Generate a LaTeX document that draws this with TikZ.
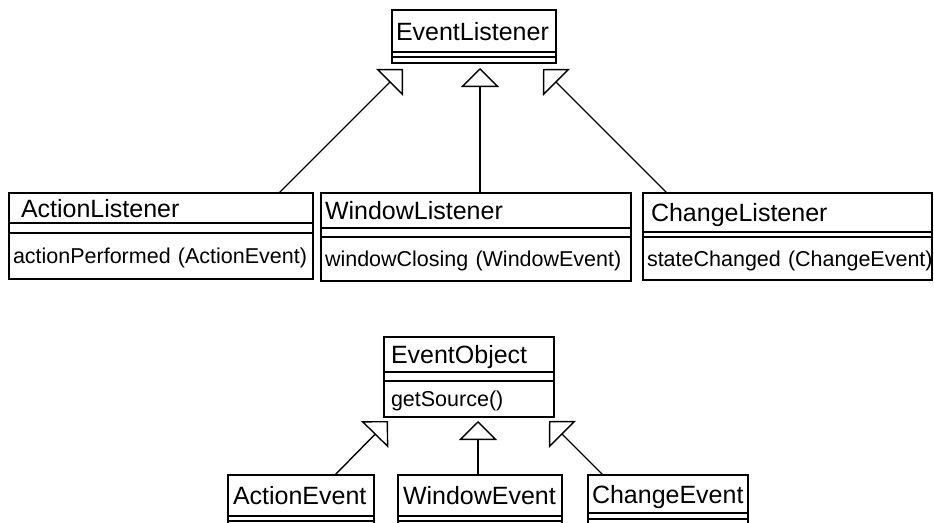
\documentclass[tikz,border=0pt]{standalone}
\usepackage{fontspec}
\setmainfont{Liberation Sans}
\usetikzlibrary{arrows.meta}
\newcommand{\namesize}{\fontsize{25pt}{30pt}\selectfont}
\newcommand{\opssize}{\fontsize{21.5pt}{26pt}\selectfont}
\tikzset{
  namepart/.style={draw, line width=1.6pt, anchor=north west, inner ysep=0pt, outer sep=0pt,
    align=left, text height=18pt, text depth=0pt, font=\namesize},
  opspart/.style={namepart, text height=15.5pt, font=\opssize},
  emptypart/.style={draw, line width=1.6pt, anchor=north west, inner sep=0pt, outer sep=0pt},
  inherit/.style={line width=1.4pt, -{Triangle[open, length=19pt, width=38pt]}}
}
\begin{document}
\begin{tikzpicture}[x=1pt, y=-1pt]
  \useasboundingbox (0,0) rectangle (934,522);
  \clip (0,0) rectangle (934,522);

  \node[namepart, inner xsep=4pt, text width=156pt, minimum height=42pt] (el) at (392,10) {EventListener};
  \node[emptypart, minimum width=164pt, minimum height=5pt] (el-attr) at (el.south west) {};
  \node[emptypart, minimum width=164pt, minimum height=6pt] (el-ops) at (el-attr.south west) {};

  \node[namepart, inner xsep=4pt, text width=296pt, minimum height=30pt] (al) at (9,193) {\hspace*{8pt}ActionListener};
  \node[emptypart, minimum width=304pt, minimum height=10pt] (al-attr) at (al.south west) {};
  \node[opspart, inner xsep=4pt, text width=296pt, minimum height=46pt] (al-ops) at (al-attr.south west) {\mbox{actionPerformed (ActionEvent)}};

  \node[namepart, inner xsep=4pt, text width=302pt, minimum height=35pt] (wl) at (321,193) {WindowListener};
  \node[emptypart, minimum width=310pt, minimum height=9pt] (wl-attr) at (wl.south west) {};
  \node[opspart, inner xsep=4pt, text width=302pt, minimum height=44pt] (wl-ops) at (wl-attr.south west) {\mbox{windowClosing (WindowEvent)}};

  \node[namepart, inner xsep=4pt, text width=281pt, minimum height=39pt] (cl) at (643,193) {\hspace*{4pt}ChangeListener};
  \node[emptypart, minimum width=289pt, minimum height=5pt] (cl-attr) at (cl.south west) {};
  \node[opspart, inner xsep=4pt, text width=281pt, minimum height=43pt] (cl-ops) at (cl-attr.south west) {\mbox{stateChanged (ChangeEvent)}};

  \draw[inherit] ([xshift=270pt]al.north west) -- ([xshift=11pt, yshift=-6pt]el-ops.south west);
  \draw[inherit] ([xshift=159pt]wl.north west) -- ([xshift=88pt, yshift=-5pt]el-ops.south west);
  \draw[inherit] ([xshift=24pt]cl.north west) -- ([xshift=-13pt, yshift=-6pt]el-ops.south east);

  \node[namepart, inner xsep=7pt, text width=156pt, minimum height=35pt] (eo) at (384,337) {EventObject};
  \node[emptypart, minimum width=170pt, minimum height=9pt] (eo-attr) at (eo.south west) {};
  \node[opspart, inner xsep=7pt, text width=156pt, minimum height=36pt] (eo-ops) at (eo-attr.south west) {getSource()};

  \node[namepart, inner xsep=5pt, text width=136pt, minimum height=41pt] (ae) at (228,475) {ActionEvent};
  \node[emptypart, minimum width=146pt, minimum height=5pt] (ae-attr) at (ae.south west) {};
  \node[emptypart, minimum width=146pt, minimum height=20pt] (ae-ops) at (ae-attr.south west) {};

  \node[namepart, inner xsep=5pt, text width=154pt, minimum height=41pt] (we) at (398,475) {WindowEvent};
  \node[emptypart, minimum width=164pt, minimum height=5pt] (we-attr) at (we.south west) {};
  \node[emptypart, minimum width=164pt, minimum height=20pt] (we-ops) at (we-attr.south west) {};

  \node[namepart, inner xsep=4pt, text width=152pt, minimum height=38pt] (ce) at (588,475) {ChangeEvent};
  \node[emptypart, minimum width=160pt, minimum height=6pt] (ce-attr) at (ce.south west) {};
  \node[emptypart, minimum width=160pt, minimum height=20pt] (ce-ops) at (ce-attr.south west) {};

  \draw[inherit] ([xshift=107pt]ae.north west) -- ([xshift=4pt, yshift=-4pt]eo-ops.south west);
  \draw[inherit] ([xshift=80pt]we.north west) -- ([xshift=94pt, yshift=-4pt]eo-ops.south west);
  \draw[inherit] ([xshift=15pt]ce.north west) -- ([xshift=-5pt, yshift=-4pt]eo-ops.south east);
\end{tikzpicture}
\end{document}
